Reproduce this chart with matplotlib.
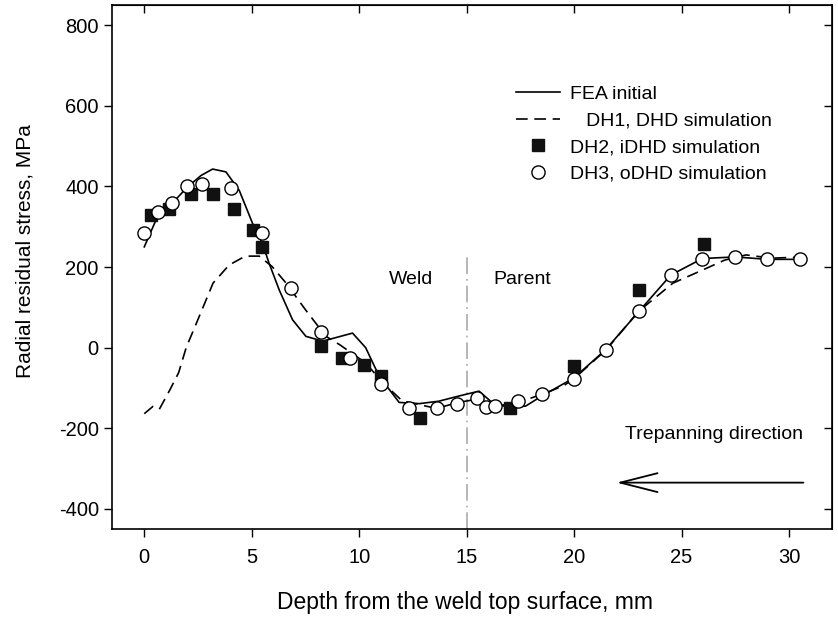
import matplotlib
matplotlib.use('Agg')
import matplotlib.pyplot as plt

plt.rcParams['font.family'] = ['Liberation Sans', 'DejaVu Sans']
plt.rcParams['axes.unicode_minus'] = False

# FEA initial (solid line)
fea_x = [0, 0.54, 1.3, 2.0, 2.64, 3.18, 3.8, 4.42, 5.04, 5.5, 5.81, 6.28, 6.9, 7.52, 8.3,
         9.69, 10.3, 10.93, 11.86, 12.8, 13.7, 14.65, 15.58, 16.2, 16.98, 17.75, 18.5,
         20.0, 21.47, 23.02, 24.5, 25.97, 27.5, 28.99, 30.5]
fea_y = [250, 316, 358, 398, 427, 443, 436, 390, 308, 258, 209, 143, 69, 28, 16,
         36, 0, -71, -136, -139, -133, -120, -108, -137, -149, -145, -120,
         -75, -5, 90, 180, 221, 225, 219, 219]

# DH1, DHD simulation (dashed line)
dh1_x = [0, 0.4, 0.7, 1.2, 1.6, 1.95, 2.5, 3.2, 3.95, 4.7, 5.35, 5.95, 6.6, 7.5, 8.45,
         9.1, 10.3, 11.1, 12.0, 13.6, 14.6, 15.5, 16.4, 17.4, 18.5, 19.5, 20.0, 21.5,
         23.0, 24.6, 26.0, 27.0, 28.0, 29.2, 30.8]
dh1_y = [-164, -146, -153, -104, -62, 0, 70, 160, 205, 227, 227, 201, 160, 94, 28,
         7, -38, -87, -132, -151, -136, -128, -145, -136, -116, -95, -77, -5,
         90, 160, 193, 217, 230, 222, 225]

# DH2, iDHD simulation (filled squares)
dh2_x = [0.31, 1.16, 2.17, 3.18, 4.19, 5.07, 5.47, 8.22, 9.22, 10.23, 11.0, 12.82,
         17.02, 20.0, 23.0, 26.05]
dh2_y = [328, 345, 382, 382, 345, 293, 250, 3, -25, -44, -71, -175,
         -149, -46, 143, 258]

# DH3, oDHD simulation (open circles)
dh3_x = [0, 0.65, 1.29, 1.98, 2.68, 4.03, 5.46, 6.85, 8.22, 9.58, 11.0, 12.33, 13.64,
         14.57, 15.5, 15.89, 16.3, 17.4, 18.5, 20.0, 21.47, 23.02, 24.5, 25.97, 27.5,
         28.99, 30.5]
dh3_y = [285, 337, 359, 400, 406, 396, 285, 147, 38, -26, -91, -151, -151,
         -139, -126, -147, -145, -132, -116, -77, -5, 90, 180, 221, 225,
         219, 219]

xticks = [0, 5, 10, 15, 20, 25, 30]
yticks = [-400, -200, 0, 200, 400, 600, 800]

fig = plt.figure(figsize=(8.38, 6.2), dpi=100)
ax = fig.add_axes([0.1337, 0.1468, 0.8591, 0.8451])

ax.plot(fea_x, fea_y, color='black', lw=1.2, label='FEA initial')
ax.plot(dh1_x, dh1_y, color='black', lw=1.2, dashes=(7, 4), label='   DH1, DHD simulation')
ax.plot(dh2_x, dh2_y, 's', color='#111111', ms=8.5, mec='#111111',
        label='DH2, iDHD simulation', zorder=3)
ax.plot(dh3_x, dh3_y, 'o', mfc='white', mec='black', mew=1.0, ms=9.5,
        label='DH3, oDHD simulation', zorder=4)

# weld / parent boundary
ax.plot([15, 15], [-450, 225], color='#aaaaaa', lw=1.2, dashes=(10, 3, 1, 3), zorder=1)

ax.text(12.4, 170, 'Weld', fontsize=14, ha='center', va='center')
ax.text(17.6, 170, 'Parent', fontsize=14, ha='center', va='center')
ax.text(26.5, -215, 'Trepanning direction', fontsize=14, ha='center', va='center')
ax.annotate('', xy=(21.85, -335), xytext=(30.8, -335),
            arrowprops=dict(arrowstyle='->, head_length=0.67, head_width=0.17',
                            color='black', lw=1.3, mutation_scale=40))

ax.set_xlim(-1.5, 32)
ax.set_ylim(-450, 850)
ax.set_xticks(xticks)
ax.set_yticks(yticks)
ax.tick_params(direction='out', length=6, width=1, labelsize=14.5)
ax.tick_params(axis='x', pad=8)
ax.set_xlabel('Depth from the weld top surface, mm', fontsize=16.5)
ax.set_ylabel('Radial residual stress, MPa', fontsize=15)
ax.xaxis.set_label_coords(0.49, -0.118)
ax.yaxis.set_label_coords(-0.108, 0.531)

for s in ax.spines.values():
    s.set_linewidth(1.2)

# mirrored inward ticks on top and right
top = ax.secondary_xaxis('top')
top.set_xticks(xticks)
top.tick_params(direction='in', length=6, width=1, labeltop=False)
right = ax.secondary_yaxis('right')
right.set_yticks(yticks)
right.tick_params(direction='in', length=6, width=1, labelright=False)

ax.legend(loc='upper left', bbox_to_anchor=(0.551, 0.862), frameon=False, fontsize=14,
          handlelength=2.26, handletextpad=0.5, labelspacing=0.47, borderaxespad=0)

fig.savefig('out.png', dpi=100)
